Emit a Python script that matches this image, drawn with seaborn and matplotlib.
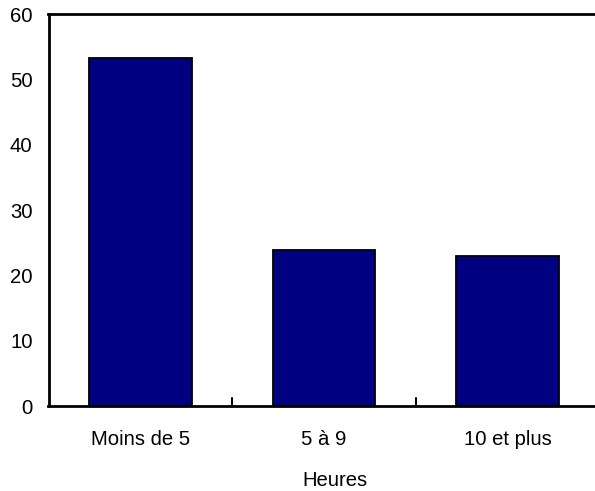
import matplotlib
matplotlib.use("Agg")
import matplotlib.pyplot as plt
import seaborn as sns
import pandas as pd

categories = ["Moins de 5", "5 à 9", "10 et plus"]
values = [53.2, 23.9, 22.9]
yticks = [0, 10, 20, 30, 40, 50, 60]

sns.set_style("white")
plt.rcParams["font.family"] = ["Liberation Sans", "DejaVu Sans"]
plt.rcParams["text.color"] = "black"
plt.rcParams["xtick.color"] = "black"
plt.rcParams["ytick.color"] = "black"
plt.rcParams["axes.labelcolor"] = "black"

FS = 14.6
W, H = 595, 491
left_px, right_px = 48.5, 48.5 + 3 * 183.7
fig = plt.figure(figsize=(W / 100, H / 100), dpi=100)
ax = fig.add_axes([left_px / W, 1 - 406 / H, (right_px - left_px) / W, 392 / H])

df = pd.DataFrame({"cat": categories, "val": values})
sns.barplot(data=df, x="cat", y="val", ax=ax, color="#000080", saturation=1,
            width=0.559, edgecolor="black", linewidth=1.3)

ax.set_xlim(-0.5, 2.5)
ax.set_ylim(0, 60)
ax.set_yticks(yticks)
ax.set_yticklabels([str(t) for t in yticks], fontsize=FS)
ax.set_xticks([0, 1, 2])
ax.set_xticklabels(categories, fontsize=FS)
ax.tick_params(axis="x", length=0, pad=17.5)
ax.tick_params(axis="y", direction="in", length=5, width=1.5, pad=11.5, color="black")
for b in [0.5, 1.5]:
    ax.plot([b, b], [0, 1.15], color="black", lw=1.5, clip_on=False)
ax.set_xlabel("Heures", fontsize=FS)
ax.xaxis.set_label_coords((334.7 - left_px) / (right_px - left_px), -0.166)
ax.set_ylabel("")
for s in ["left", "bottom", "top"]:
    ax.spines[s].set_visible(True)
    ax.spines[s].set_color("black")
    ax.spines[s].set_linewidth(2)
ax.spines["right"].set_visible(False)

fig.savefig("out.png", dpi=100)
